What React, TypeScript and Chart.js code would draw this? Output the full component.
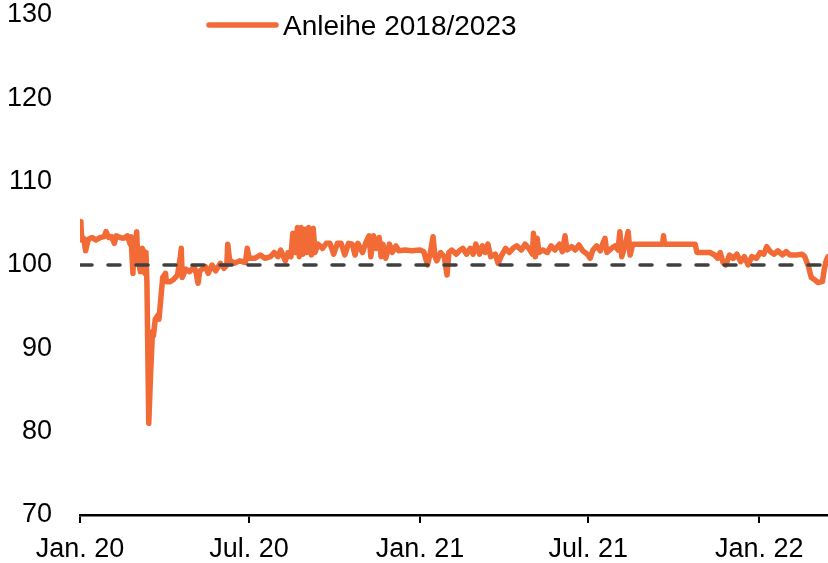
import React, { useEffect, useRef } from "react";
import { Chart, registerables } from "chart.js";

Chart.register(...registerables);

// x positions: days since 1 Jan 2020
const dayOffsets = [
  0, 1, 2, 4, 6, 9, 13, 17, 22, 26, 28, 31, 34, 37, 39, 43, 47, 51, 54, 55, 56, 57, 58, 59, 61, 62, 65, 67, 69, 70,
  71, 72, 74, 76, 78, 79, 81, 84, 85, 87, 89, 92, 93, 97, 101, 105, 108, 109, 110, 114, 118, 123, 125, 127, 129,
  135, 138, 142, 146, 151, 155, 158, 159, 161, 166, 172, 178, 180, 182, 188, 194, 199, 205, 209, 213, 216, 221,
  224, 227, 229, 232, 234, 236, 238, 240, 242, 244, 246, 249, 251, 253, 256, 261, 265, 269, 273, 277, 281, 285,
  289, 293, 296, 299, 304, 308, 311, 313, 316, 319, 322, 324, 326, 329, 333, 336, 340, 343, 350, 357, 366, 370,
  374, 377, 380, 382, 384, 388, 392, 395, 397, 400, 405, 409, 412, 416, 420, 423, 426, 430, 433, 436, 439, 442,
  447, 450, 453, 458, 462, 466, 470, 475, 479, 483, 487, 488, 490, 492, 494, 498, 503, 507, 511, 516, 519, 522,
  524, 529, 533, 537, 541, 546, 549, 552, 556, 560, 562, 565, 567, 572, 576, 579, 581, 583, 587, 590, 592, 595,
  614, 627, 628, 629, 646, 662, 664, 678, 683, 686, 689, 692, 695, 699, 703, 707, 711, 715, 719, 723, 728, 732,
  736, 739, 743, 747, 751, 756, 760, 764, 771, 777, 780, 784, 787, 791, 794, 799, 801, 803, 805,
];

const bondValues = [
  105.2, 104.8, 103.0, 103.2, 101.7, 103.1, 103.3, 103.0, 103.3, 103.4, 104.0, 103.3, 103.4, 102.6, 103.5, 103.3,
  103.2, 103.5, 102.5, 103.4, 101.0, 99.0, 102.5, 100.5, 104.0, 101.0, 99.2, 102.0, 101.5, 99.0,
  101.5, 98.0, 81.0, 87.0, 92.0, 91.5, 93.5, 94.0, 93.5, 96.0, 98.5, 99.0, 98.0, 98.0, 98.3, 98.8, 101.0, 102.0,
  98.5, 99.5, 99.2, 99.8, 99.0, 97.8, 99.3,
  99.8, 99.0, 100.0, 99.3, 100.2, 99.6, 100.0, 102.5, 100.6, 100.2, 100.5, 100.3, 102.0, 100.8, 100.8, 101.2,
  100.8, 101.0, 101.5, 101.0, 101.8, 100.5,
  101.5, 101.0, 103.8, 101.5, 104.5, 101.0, 104.5, 101.3, 104.3, 101.5, 104.5, 101.2, 104.4, 101.5, 102.5, 102.0,
  102.6, 102.6, 101.3, 102.6, 102.6, 101.2,
  102.6, 102.5, 101.2, 102.6, 101.5, 102.8, 103.5, 101.0, 103.5, 102.0, 103.3, 101.0, 102.5, 100.8, 102.5, 101.5,
  102.3, 101.7, 101.8, 101.7, 101.8, 101.6,
  100.0, 101.5, 103.4, 101.0, 100.5, 101.5, 101.0, 98.8, 101.5, 101.8, 101.3, 101.8, 102.0, 101.3, 102.0, 101.3,
  102.5, 101.3, 102.3, 101.5, 102.5, 101.0,
  101.3, 100.2, 101.0, 102.0, 101.5, 102.0, 102.3, 101.8, 102.5, 102.0, 101.3, 103.8, 101.0, 103.2, 101.5, 101.8,
  101.5, 102.3, 101.8, 102.5, 101.6, 103.5,
  101.8, 102.2, 101.8, 102.4, 101.7, 101.3, 100.8, 101.8, 102.3, 101.7, 102.4, 103.2, 101.5, 102.0, 102.3, 101.8,
  104.0, 101.0, 102.5, 104.0, 101.2, 102.5,
  102.5, 102.5, 103.5, 102.5, 102.5, 102.5, 101.5, 101.5, 101.2, 100.8, 101.5, 100.3, 100.0, 101.2, 100.8, 101.3,
  100.4, 101.0, 100.0, 101.0, 100.8, 101.5,
  101.3, 102.2, 101.6, 101.3, 101.7, 101.2, 101.6, 101.2, 101.2, 101.3, 101.0, 99.8, 98.5, 98.2, 97.9, 98.0, 99.5,
  100.5, 101.0,
];

const seriesLabel = "Anleihe 2018/2023";
const referenceLevel = 100;
const xMaxDay = 805;
const tickDays = [0, 182, 366, 547, 731];
const tickLabels = ["Jan. 20", "Jul. 20", "Jan. 21", "Jul. 21", "Jan. 22"];
const yTicks = [70, 80, 90, 100, 110, 120, 130];

const ORANGE = "rgb(242,106,54)";
const FONT = "'Liberation Sans', Arial, sans-serif";

const legendPlugin = {
  id: "customLegend",
  afterDraw(chart: any) {
    const ctx = chart.ctx;
    const left = chart.chartArea.left;
    ctx.save();
    ctx.strokeStyle = ORANGE;
    ctx.lineWidth = 5.5;
    ctx.lineCap = "round";
    ctx.beginPath();
    ctx.moveTo(left + 129, 25);
    ctx.lineTo(left + 196, 25);
    ctx.stroke();
    ctx.fillStyle = "#000";
    ctx.font = `28px ${FONT}`;
    ctx.textBaseline = "middle";
    ctx.textAlign = "left";
    ctx.fillText(seriesLabel, left + 203, 27);
    ctx.restore();
  },
};

export default function App() {
  const ref = useRef<HTMLCanvasElement>(null);
  useEffect(() => {
    if (!ref.current) return;
    const bondData = dayOffsets.map((d, i) => ({ x: d, y: bondValues[i] }));
    const refData = [
      { x: 0, y: referenceLevel },
      { x: xMaxDay, y: referenceLevel },
    ];
    const chart = new Chart(ref.current, {
      type: "line",
      data: {
        datasets: [
          {
            label: seriesLabel,
            data: bondData,
            borderColor: ORANGE,
            backgroundColor: ORANGE,
            borderWidth: 5.5,
            pointRadius: 0,
            tension: 0,
            borderJoinStyle: "round",
            borderCapStyle: "round",
            order: 1,
          },
          {
            label: "ref",
            data: refData,
            borderColor: "#404040",
            borderWidth: 3.5,
            borderDash: [12, 16],
            borderCapStyle: "round",
            pointRadius: 0,
            order: 0,
          },
        ],
      },
      options: {
        animation: false,
        responsive: true,
        maintainAspectRatio: false,
        layout: { padding: { top: 15, right: 0, left: 0, bottom: 0 } },
        plugins: { legend: { display: false }, tooltip: { enabled: false } },
        scales: {
          x: {
            type: "linear",
            min: 0,
            max: xMaxDay,
            afterBuildTicks: (scale: any) => {
              scale.ticks = tickDays.map((v) => ({ value: v }));
            },
            afterFit: (scale: any) => {
              scale.height = 48;
              scale.paddingLeft = 0;
              scale.paddingRight = 0;
            },
            ticks: {
              autoSkip: false,
              maxRotation: 0,
              color: "#000",
              padding: 10,
              font: { family: FONT, size: 27 },
              callback: (v: any) => {
                const i = tickDays.indexOf(Number(v));
                return i >= 0 ? tickLabels[i] : "";
              },
            },
            grid: {
              display: true,
              drawOnChartArea: false,
              drawTicks: true,
              tickLength: 8,
              color: "#000",
              lineWidth: 2,
            },
            border: { display: true, color: "#000", width: 2.5 },
          },
          y: {
            min: 70,
            max: 130,
            afterBuildTicks: (scale: any) => {
              scale.ticks = yTicks.map((v) => ({ value: v }));
            },
            afterFit: (scale: any) => {
              scale.width = 80;
              scale.paddingTop = 0;
              scale.paddingBottom = 0;
            },
            ticks: {
              color: "#000",
              padding: 28,
              font: { family: FONT, size: 27 },
            },
            grid: { display: false, drawTicks: false },
            border: { display: false },
          },
        },
      },
      plugins: [legendPlugin],
    });
    return () => chart.destroy();
  }, []);
  return (
    <div style={{ position: "absolute", left: 0, top: 0, width: 828, height: 563, background: "#fff" }}>
      <canvas ref={ref} />
    </div>
  );
}
